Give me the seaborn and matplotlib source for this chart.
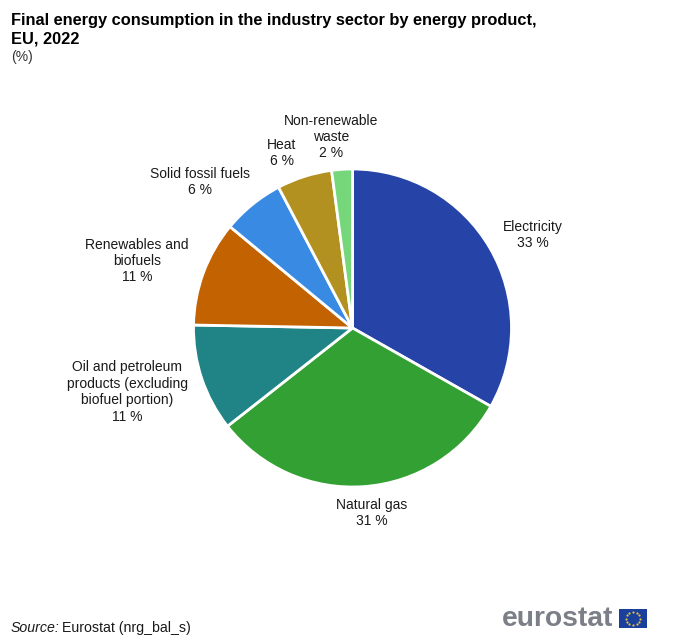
"""Final energy consumption in industry by energy product, pie chart."""

import matplotlib.pyplot as plt
import numpy as np
import seaborn as sns
from matplotlib.patches import Rectangle

products = [
    "Electricity",
    "Natural gas",
    "Oil and petroleum\nproducts (excluding\nbiofuel portion)",
    "Renewables and\nbiofuels",
    "Solid fossil fuels",
    "Heat",
    "Non-renewable\nwaste",
]
shares = [33.2, 31.2, 10.9, 10.7, 6.3, 5.6, 2.1]
share_labels = ["33 %", "31 %", "11 %", "11 %", "6 %", "6 %", "2 %"]
colors = ["#2644A7", "#33A033", "#208486", "#C26200", "#388AE2", "#B39120", "#76D77A"]

W, H = 700, 643

sns.set_theme(style="white")
plt.rcParams["font.family"] = ["Liberation Sans", "DejaVu Sans"]

fig = plt.figure(figsize=(W / 100, H / 100), dpi=100)
fig.patch.set_facecolor("white")

# pie centre is at about (352.5, 328) with radius 159 px
R = 159
cx, cy = 352.5, 328
ax = fig.add_axes([(cx - R) / W, 1 - (cy + R) / H, 2 * R / W, 2 * R / H])
palette = sns.color_palette(colors)
ax.pie(
    shares,
    colors=palette,
    startangle=90,
    counterclock=False,
    radius=1,
    wedgeprops={"edgecolor": "white", "linewidth": 2},
)
ax.set_xlim(-1, 1)
ax.set_ylim(-1, 1)

# label centres in figure pixels
label_pos = [(533, 235), (372, 513), (127, 392), (137, 261), (200, 182), (282, 153), (331, 137)]
for name, val, (x, y) in zip(products, share_labels, label_pos):
    fig.text(x / W, 1 - y / H, f"{name}\n{val}", ha="center", va="center",
             fontsize=10, color="#1a1a1a", linespacing=1.22)

fig.text(11 / W, 1 - 20 / H, "Final energy consumption in the industry sector by energy product,",
         fontsize=11.75, fontweight="bold", color="black", va="center")
fig.text(11 / W, 1 - 39 / H, "EU, 2022", fontsize=11.75, fontweight="bold", color="black", va="center")
fig.text(11 / W, 1 - 57 / H, "(%)", fontsize=10, color="#333333", va="center")

fig.text(11 / W, 1 - 628 / H, "Source:", fontsize=10.2, style="italic", color="#1a1a1a", va="center")
fig.text(62 / W, 1 - 628 / H, "Eurostat (nrg_bal_s)", fontsize=10.2, color="#1a1a1a", va="center")

# eurostat logo
fig.text(502 / W, 1 - 619 / H, "eurostat", fontsize=20.3, fontweight="bold", color="#7b7f87", va="center")
flag = fig.add_axes([619 / W, 1 - 628 / H, 28 / W, 19 / H])
flag.add_patch(Rectangle((0, 0), 1, 1, color="#1A3F9C"))
angles = np.deg2rad(np.arange(0, 360, 30))
flag.scatter(0.5 + 0.26 * np.cos(angles), 0.5 + 0.36 * np.sin(angles), s=2.5, color="#E5C33A", linewidths=0)
flag.set_xlim(0, 1)
flag.set_ylim(0, 1)
flag.axis("off")

fig.savefig("out.png", dpi=100)
plt.close(fig)
